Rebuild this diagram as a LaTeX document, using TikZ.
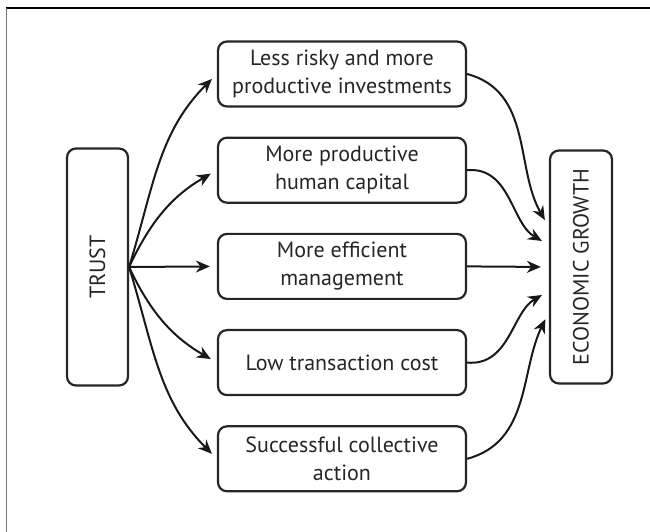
\documentclass[tikz,border=0pt]{standalone}
\usepackage{fontspec}
\setmainfont{PT Sans}
\usetikzlibrary{positioning,arrows.meta}

\tikzset{
  box/.style={draw=black!85, line width=2.2pt, rounded corners=9pt, fill=white,
    align=center, text=black!85, font=\fontsize{22}{28}\selectfont},
  midbox/.style={box, minimum width=248pt, minimum height=65pt},
  link/.style={-{Stealth[length=14pt,width=12pt]}, line width=2pt, black!90},
}

\begin{document}
\begin{tikzpicture}[x=1pt,y=1pt]
  \useasboundingbox (0,0) rectangle (650,532);
  % frame
  \draw[line width=1.5pt] (6,524) -- (650,524);
  \draw[line width=1.5pt, black!55] (6.5,524) -- (6.5,0);
  \node[box, rotate=90, minimum width=237pt, minimum height=61pt] (trust) at (97.5,265) {TRUST};
  \node[box, rotate=90, minimum width=233pt, minimum height=62pt] (growth) at (581,265) {ECONOMIC GROWTH};
  \node[midbox] (invest) at (342,458) {Less risky and more\\productive investments};
  \node[midbox, below=29pt of invest] (human) {More productive\\human capital};
  \node[midbox, below=29pt of human] (manage) {More efficient\\management};
  \node[midbox, below=29pt of manage] (cost) {Low transaction cost};
  \node[midbox, below=29pt of cost] (action) {Successful collective\\action};
  \path[link, shorten >=7pt]
    (trust.south) edge[out=73, in=225] (invest.west)
    (trust.south) edge[out=65, in=210] (human.west)
    (trust.south) edge (manage.west)
    (trust.south) edge[out=-65, in=150] (cost.west)
    (trust.south) edge[out=-73, in=135] (action.west);
  \path[link, shorten >=8pt]
    (invest.east) edge[out=-15, in=120] ([yshift=40pt]growth.north)
    (human.east) edge[out=5, in=150] ([yshift=22pt]growth.north)
    (manage.east) edge (growth.north)
    (cost.east) edge[out=-5, in=210] ([yshift=-24pt]growth.north)
    (action.east) edge[out=15, in=244] ([yshift=-45pt]growth.north);
\end{tikzpicture}
\end{document}
